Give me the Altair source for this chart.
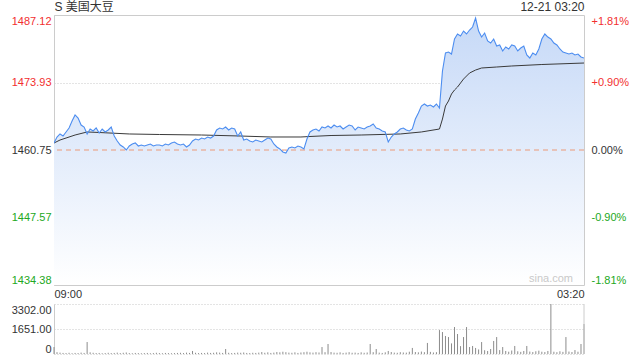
import altair as alt
import pandas as pd

# ---------------- data ----------------
prices = [
    1462.12, 1463.29, 1463.88, 1463.48, 1464.27, 1465.05, 1466.41, 1467.59, 1467.00, 1465.63,
    1465.24, 1463.88, 1464.85, 1464.46, 1465.05, 1464.07, 1464.85, 1464.27, 1464.66, 1465.24,
    1463.48, 1462.51, 1461.73, 1461.34, 1460.75, 1461.53, 1461.92, 1462.12, 1461.53, 1461.73,
    1461.53, 1461.73, 1461.92, 1461.53, 1461.73, 1461.73, 1461.53, 1461.92, 1461.73, 1462.12,
    1462.31, 1461.92, 1461.73, 1461.92, 1461.34, 1461.73, 1462.51, 1462.90, 1462.70, 1463.09,
    1462.90, 1463.29, 1463.09, 1463.48, 1464.66, 1465.05, 1464.85, 1465.24, 1464.66, 1465.05,
    1464.85, 1463.48, 1464.27, 1462.70, 1462.90, 1462.51, 1462.31, 1462.70, 1462.51, 1462.31,
    1462.70, 1463.09, 1462.90, 1461.92, 1461.34, 1460.95, 1460.36, 1460.16, 1461.14, 1461.34,
    1461.14, 1461.53, 1461.34, 1460.95, 1462.90, 1464.27, 1464.66, 1464.85, 1464.46, 1465.24,
    1465.05, 1465.44, 1465.05, 1465.63, 1465.24, 1465.44, 1464.85, 1465.24, 1465.63, 1465.44,
    1464.66, 1465.24, 1465.05, 1464.85, 1465.24, 1465.44, 1465.83, 1465.05, 1464.85, 1464.46,
    1464.27, 1462.31, 1463.29, 1463.88, 1464.27, 1464.85, 1465.05, 1464.66, 1464.46, 1464.85,
    1466.80, 1467.98, 1469.34, 1469.73, 1469.34, 1469.54, 1469.15, 1469.73, 1468.95, 1476.18,
    1479.70, 1479.89, 1479.50, 1482.43, 1483.41, 1483.02, 1483.99, 1483.41, 1484.19, 1484.77,
    1486.53, 1483.99, 1482.82, 1483.60, 1482.04, 1481.65, 1482.43, 1481.06, 1481.26, 1480.09,
    1480.87, 1480.48, 1481.26, 1481.06, 1480.09, 1480.67, 1481.06, 1479.31, 1478.72, 1479.70,
    1479.31, 1480.48, 1482.43, 1483.41, 1482.82, 1482.43, 1481.65, 1481.26, 1480.48, 1479.89,
    1479.70, 1479.50, 1479.70, 1479.31, 1479.50, 1478.92, 1478.72,
]

avg_idx = [0, 2, 4, 7, 11, 15, 25, 35, 49, 62, 72, 82, 85, 92, 102, 115, 122, 128,
           129, 130, 131, 132, 133, 134, 136, 138, 140, 142, 147, 152, 162, 176]
avg_vals = [1462.12, 1462.70, 1463.09, 1463.68, 1464.27, 1464.17, 1463.88, 1463.78,
            1463.68, 1463.48, 1463.29, 1463.29, 1463.39, 1463.58, 1463.68, 1463.88,
            1464.27, 1464.85, 1466.80, 1469.34, 1470.32, 1471.69, 1472.47, 1473.05,
            1474.61, 1475.79, 1476.37, 1476.77, 1476.96, 1477.16, 1477.45, 1477.74]

volumes = [
    460, 120, 90, 70, 60, 80, 50, 70, 60, 90,
    70, 790, 110, 80, 60, 70, 50, 60, 80, 60,
    70, 90, 60, 80, 100, 60, 50, 70, 60, 50,
    60, 70, 50, 60, 80, 60, 50, 70, 60, 50,
    60, 70, 80, 60, 90, 70, 200, 80, 60, 70,
    60, 90, 70, 80, 110, 90, 70, 330, 80, 60,
    70, 90, 80, 100, 70, 60, 80, 70, 90, 130,
    80, 110, 70, 90, 130, 110, 150, 120, 90, 80,
    110, 70, 100, 120, 150, 110, 90, 120, 100, 460,
    120, 660, 130, 90, 80, 110, 70, 90, 120, 80,
    90, 70, 110, 80, 100, 660, 120, 330, 90, 70,
    110, 200, 130, 90, 80, 120, 100, 90, 150, 400,
    130, 110, 160, 120, 730, 140, 100, 120, 1580, 1450,
    1190, 1120, 700, 1780, 1320, 520, 1120, 1780, 460, 530,
    400, 300, 790, 250, 200, 330, 860, 1120, 260, 460,
    200, 150, 230, 530, 180, 140, 200, 530, 160, 130,
    180, 220, 150, 130, 200, 3302, 150, 120, 180, 140,
    1120, 160, 130, 260, 150, 660, 1980,
]

prev_close = 1460.75
price_ticks = [1434.38, 1447.57, 1460.75, 1473.93, 1487.12]
pct_labels = ["-1.81%", "-0.90%", "0.00%", "+0.90%", "+1.81%"]
vol_ticks = [0, 1651, 3302]
vol_labels = ["0", "1651.00", "3302.00"]
time_labels = ["09:00", "03:20"]
head_labels = ["S 美国大豆", "12-21 03:20"]
watermark = ["sina.com"]

# ---------------- styling ----------------
FONT = "Liberation Sans, Arial, Noto Sans CJK SC"
RED = "#f22f2f"
GREEN = "#22a822"
TXT = "#333333"
BORDER = "#cccccc"
W, H, VH = 530, 270, 50

N = len(prices)
xmax = N - 1
ymin, ymax = price_ticks[0], price_ticks[-1]

df = pd.DataFrame({"t": list(range(N)), "price": prices, "vol": volumes})
avg_df = pd.DataFrame({"t": avg_idx, "avg": avg_vals})


def xs():
    return alt.Scale(domain=[0, xmax], nice=False, zero=False)


def ys():
    return alt.Scale(domain=[ymin, ymax], nice=False, zero=False)


def match_expr(values, labels):
    parts = [f"abs(datum.value - {v}) < 0.005 ? '{l}'" for v, l in zip(values, labels)]
    return " : ".join(parts) + " : ''"


color_expr = {"expr": f"datum.value > {prev_close + 0.001} ? '{RED}' : "
                      f"datum.value < {prev_close - 0.001} ? '{GREEN}' : '{TXT}'"}
base_expr = {"expr": f"datum.value > {ymax - 0.001} ? 'top' : "
                     f"datum.value < {ymin + 0.001} ? 'bottom' : 'middle'"}

left_axis = alt.Axis(values=price_ticks, orient="left", title=None, format=".2f",
                     grid=True, gridColor="#c8c8c8", gridDash=[1, 2],
                     domain=True, domainColor=BORDER, ticks=False,
                     labelPadding=3, labelFont=FONT, labelFontSize=11,
                     labelColor=color_expr, labelBaseline=base_expr)
right_axis = alt.Axis(values=price_ticks, orient="right", title=None,
                      labelExpr=match_expr(price_ticks, pct_labels),
                      grid=False, domain=True, domainColor=BORDER, ticks=False,
                      labelPadding=7, labelFont=FONT, labelFontSize=11,
                      labelColor=color_expr, labelBaseline=base_expr)
bottom_axis = alt.Axis(values=[0, xmax], orient="bottom", title=None,
                       labelExpr=match_expr([0, xmax], time_labels),
                       labelFlush=True, grid=False, domain=True, domainColor=BORDER,
                       ticks=False, labelPadding=3, labelFont=FONT, labelFontSize=11,
                       labelColor=TXT)
top_axis = alt.Axis(values=[0, xmax], orient="top", title=None,
                    labelExpr=match_expr([0, xmax], head_labels),
                    labelFlush=True, grid=False, domain=True, domainColor=BORDER,
                    ticks=False, labelPadding=2, labelFont=FONT, labelFontSize=12,
                    labelColor=TXT)

base = alt.Chart(df)

area = base.mark_area(
    color=alt.Gradient(gradient="linear",
                       stops=[alt.GradientStop(color="#c6d9f7", offset=0),
                              alt.GradientStop(color="#ffffff", offset=1)],
                       x1=1, x2=1, y1=0, y2=1),
    clip=True,
).encode(
    x=alt.X("t:Q", scale=xs(), axis=bottom_axis),
    y=alt.Y("price:Q", scale=ys(), axis=left_axis),
    y2=alt.Y2(datum=ymin),
)

price_line = base.mark_line(color="#4c8df0", strokeWidth=1.1, clip=True).encode(
    x=alt.X("t:Q", scale=xs(), axis=top_axis),
    y=alt.Y("price:Q", scale=ys(), axis=None),
)

avg_line = alt.Chart(avg_df).mark_line(color="#3a3a3a", strokeWidth=1, clip=True).encode(
    x=alt.X("t:Q", scale=xs(), axis=None),
    y=alt.Y("avg:Q", scale=ys(), axis=None),
)

zero_rule = alt.Chart(pd.DataFrame({"p": [prev_close]})).mark_rule(
    color="#eb9a78", strokeDash=[5, 4], strokeWidth=1
).encode(
    y=alt.Y("p:Q", scale=ys(), axis=right_axis),
)

mark_txt = alt.Chart(pd.DataFrame({"txt": watermark})).mark_text(
    align="right", baseline="bottom", dx=-11, dy=-1, color="#c9c9c9",
    font=FONT, fontSize=11
).encode(
    x=alt.X(datum=xmax, type="quantitative", scale=xs(), axis=None),
    y=alt.Y(datum=ymin, type="quantitative", scale=ys(), axis=None),
    text="txt:N",
)

main = alt.layer(area, zero_rule, avg_line, price_line, mark_txt).resolve_scale(
    x="independent", y="independent"
).properties(width=W, height=H)

vol_axis = alt.Axis(values=vol_ticks, orient="left", title=None,
                    labelExpr=match_expr(vol_ticks, vol_labels),
                    grid=True, gridColor="#c8c8c8", gridDash=[1, 2],
                    domain=True, domainColor=BORDER, ticks=False,
                    labelPadding=3, labelFont=FONT, labelFontSize=11, labelColor=TXT,
                    labelBaseline={"expr": f"datum.value > {vol_ticks[-1] - 1} ? 'top' : "
                                           f"datum.value < 1 ? 'bottom' : 'middle'"})

vol_bars = base.mark_rule(color="#8c8c8c", strokeWidth=1).encode(
    x=alt.X("t:Q", scale=xs(), axis=None),
    y=alt.Y("vol:Q", scale=alt.Scale(domain=[0, vol_ticks[-1]], nice=False), axis=vol_axis),
    y2=alt.Y2(datum=0),
)
vol_edge = alt.Chart(pd.DataFrame({"e": [xmax]})).mark_rule(color=BORDER).encode(
    x=alt.X("e:Q", scale=xs(), axis=None),
)
vol = alt.layer(vol_bars, vol_edge).properties(width=W, height=VH)

chart = alt.vconcat(main, vol, spacing=4).properties(
    padding={"left": 11, "top": 0, "right": 0, "bottom": 0},
    background="#ffffff",
).configure_view(stroke=None)

chart.save("out.html", embed_options={"renderer": "svg", "actions": False})
